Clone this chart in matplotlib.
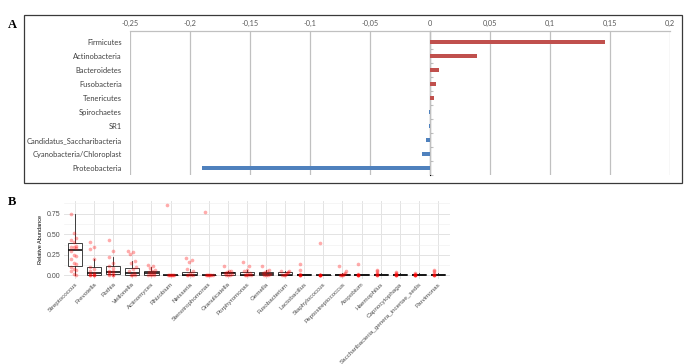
import matplotlib.pyplot as plt
import matplotlib.patches as mpatches
from matplotlib.ticker import FuncFormatter, MultipleLocator
import numpy as np

# ---------------- dados painel A ----------------
filos = ['Firmicutes', 'Actinobacteria', 'Bacteroidetes', 'Fusobacteria', 'Tenericutes',
         'Spirochaetes', 'SR1', 'Candidatus_Saccharibacteria', 'Cyanobacteria/Chloroplast',
         'Proteobacteria']
diferenca = [0.146, 0.039, 0.0075, 0.0048, 0.0035, -0.0005, -0.001, -0.003, -0.007, -0.19]

# ---------------- dados painel B ----------------
generos = ['Streptococcus', 'Prevotella', 'Rothia', 'Veillonella', 'Actinomyces', 'Rhizobium',
           'Neisseria', 'Stenotrophomonas', 'Granulicatella', 'Porphyromonas', 'Gemella',
           'Fusobacterium', 'Lactobacillus', 'Staphylococcus', 'Peptostreptococcus', 'Atopobium',
           'Haemophilus', 'Capnocytophaga', 'Saccharibacteria_genera_incertae_sedis', 'Parvimonas']
q1 =      [0.12, 0.0,   0.015, 0.0,  0.01,  0.0, 0.0,   0.0, 0.01,  0.0,   0.0,  0.0,  0.0,   0.0, 0.0,  0.0,  0.0,  0.0,   0.0,   0.0]
mediana = [0.31, 0.025, 0.04,  0.035, 0.03, 0.0, 0.005, 0.0, 0.025, 0.01,  0.02, 0.01, 0.005, 0.0, 0.005, 0.005, 0.005, 0.008, 0.008, 0.005]
q3 =      [0.39, 0.10,  0.115, 0.095, 0.05, 0.003, 0.045, 0.002, 0.04, 0.037, 0.04, 0.04, 0.012, 0.002, 0.012, 0.012, 0.012, 0.015, 0.015, 0.012]
bigode_sup = [0.74, 0.20, 0.22, 0.18, 0.10, 0.003, 0.08, 0.002, 0.06, 0.07, 0.07, 0.06, 0.02, 0.002, 0.03, 0.02, 0.03, 0.03, 0.03, 0.03]
pontos = [
    [0.74, 0.51, 0.45, 0.43, 0.40, 0.36, 0.35, 0.34, 0.33, 0.30, 0.25, 0.24, 0.20, 0.15, 0.14, 0.10, 0.08, 0.07, 0.05, 0.02, 0.0],
    [0.41, 0.34, 0.32, 0.20, 0.10, 0.08, 0.05, 0.03, 0.02, 0.01, 0.0, 0.0, 0.0, 0.0],
    [0.43, 0.30, 0.22, 0.15, 0.12, 0.09, 0.06, 0.05, 0.04, 0.03, 0.02, 0.01, 0.0, 0.0],
    [0.30, 0.28, 0.26, 0.17, 0.15, 0.10, 0.08, 0.05, 0.03, 0.01, 0.0, 0.0],
    [0.13, 0.11, 0.09, 0.07, 0.05, 0.04, 0.03, 0.02, 0.01, 0.0, 0.0],
    [0.86, 0.0, 0.0, 0.0, 0.0, 0.0, 0.0, 0.0],
    [0.21, 0.19, 0.16, 0.08, 0.06, 0.03, 0.01, 0.0, 0.0, 0.0],
    [0.77, 0.0, 0.0, 0.0, 0.0, 0.0, 0.0, 0.0],
    [0.11, 0.06, 0.05, 0.04, 0.03, 0.02, 0.01, 0.0, 0.0],
    [0.16, 0.12, 0.07, 0.05, 0.03, 0.02, 0.01, 0.0, 0.0, 0.0],
    [0.12, 0.07, 0.05, 0.04, 0.03, 0.02, 0.01, 0.0, 0.0],
    [0.06, 0.05, 0.04, 0.03, 0.02, 0.01, 0.0, 0.0],
    [0.14, 0.07, 0.02, 0.01, 0.0, 0.0, 0.0],
    [0.39, 0.0, 0.0, 0.0, 0.0, 0.0, 0.0],
    [0.12, 0.05, 0.03, 0.02, 0.01, 0.0, 0.0, 0.0],
    [0.14, 0.02, 0.01, 0.0, 0.0, 0.0, 0.0],
    [0.07, 0.05, 0.03, 0.02, 0.0, 0.0, 0.0],
    [0.04, 0.03, 0.02, 0.01, 0.0, 0.0, 0.0],
    [0.03, 0.02, 0.01, 0.0, 0.0, 0.0, 0.0],
    [0.07, 0.05, 0.03, 0.01, 0.0, 0.0, 0.0],
]

fig = plt.figure(figsize=(6.85, 3.64), dpi=100)

# =============================================================================
# Painel A: barras horizontais
# =============================================================================
fonteA = 'Lato'
axA = fig.add_axes([130/685, 1 - 175/364, 540/685, 144/364])
cores = ['#C0504D' if v > 0 else '#4F81BD' for v in diferenca]
pos = np.arange(len(filos))
axA.barh(pos, diferenca, height=0.34, color=cores, zorder=3)
axA.set_xlim(-0.25, 0.2)
axA.set_ylim(9.5, -0.79)
axA.xaxis.set_major_locator(MultipleLocator(0.05))
axA.xaxis.set_major_formatter(FuncFormatter(lambda v, p: ('%g' % round(v, 3)).replace('.', ',')))
axA.xaxis.tick_top()
axA.tick_params(axis='x', length=0, pad=3, labelsize=5.3, labelcolor='#595959')
axA.set_yticks(pos)
axA.set_yticklabels(filos)
axA.tick_params(axis='y', length=0, pad=6, labelsize=5.4, labelcolor='#404040')
for lab in axA.get_xticklabels() + axA.get_yticklabels():
    lab.set_family(fonteA)
axA.grid(axis='x', color='#c0c0c0', lw=0.9, zorder=0)
for s in ['left', 'right', 'bottom']:
    axA.spines[s].set_visible(False)
axA.spines['top'].set_color('#c0c0c0')
axA.spines['top'].set_linewidth(0.9)
# marquinhas no eixo zero
eixo0 = axA.secondary_yaxis(0.25 / 0.45)
eixo0.set_yticks(np.arange(len(filos)) + 0.5)
eixo0.set_yticklabels([])
eixo0.tick_params(length=2.5, color='#c0c0c0', width=0.8)
eixo0.spines['left'].set_visible(False)

fig.patches.append(mpatches.Rectangle((24/685, 1 - 183/364), 658/685, 168/364,
                                      transform=fig.transFigure, fill=False,
                                      edgecolor='#3a3a3a', lw=0.9))
fig.text(8/685, 1 - 25/364, 'A', family='Liberation Serif', weight='bold', fontsize=9,
         ha='left', va='center')

# =============================================================================
# Painel B: boxplots com jitter
# =============================================================================
fonteB = 'Liberation Sans'
axB = fig.add_axes([63.5/685, 1 - 279/364, 386/685, 78/364])
stats = []
for i, g in enumerate(generos):
    stats.append(dict(med=mediana[i], q1=q1[i], q3=q3[i], whislo=0.0, whishi=bigode_sup[i],
                      fliers=[], label=g))
xs = np.arange(len(generos))
axB.bxp(stats, positions=xs, widths=0.75, patch_artist=True, showcaps=False,
        boxprops=dict(facecolor='white', edgecolor='#222222', lw=0.6),
        medianprops=dict(color='#111111', lw=1.2),
        whiskerprops=dict(color='#222222', lw=0.6), zorder=2)
for i, vals in enumerate(pontos):
    n = len(vals)
    desloc = (((np.arange(n) * 7) % n) / max(n - 1, 1) - 0.5) * 0.4
    axB.scatter(xs[i] + desloc, vals, s=7, color='red', alpha=0.33, lw=0, zorder=3)

axB.set_xlim(-0.6, len(generos) - 0.4)
axB.set_ylim(-0.043, 0.903)
axB.set_yticks([0, 0.25, 0.5, 0.75])
axB.set_yticks([0.125, 0.375, 0.625, 0.875], minor=True)
axB.yaxis.set_major_formatter(FuncFormatter(lambda v, p: '%.2f' % v))
axB.set_xticks(xs)
axB.set_xticklabels(generos, rotation=45, ha='right', va='top', rotation_mode='anchor')
axB.tick_params(axis='x', length=0, labelsize=4.5, labelcolor='#4d4d4d', pad=2)
axB.tick_params(axis='y', length=0, labelsize=5, labelcolor='#4d4d4d', pad=2)
axB.tick_params(axis='y', which='minor', length=0)
for lab in axB.get_xticklabels() + axB.get_yticklabels():
    lab.set_family(fonteB)
axB.grid(which='major', color='#e3e3e3', lw=0.7, zorder=0)
axB.grid(which='minor', axis='y', color='#eeeeee', lw=0.4, zorder=0)
axB.set_axisbelow(True)
for s in axB.spines.values():
    s.set_visible(False)
axB.set_ylabel('Relative Abundance', fontsize=4, family=fonteB, labelpad=3)

fig.text(8/685, 1 - 202/364, 'B', family='Liberation Serif', weight='bold', fontsize=9,
         ha='left', va='center')

fig.savefig('out.png', dpi=100)
